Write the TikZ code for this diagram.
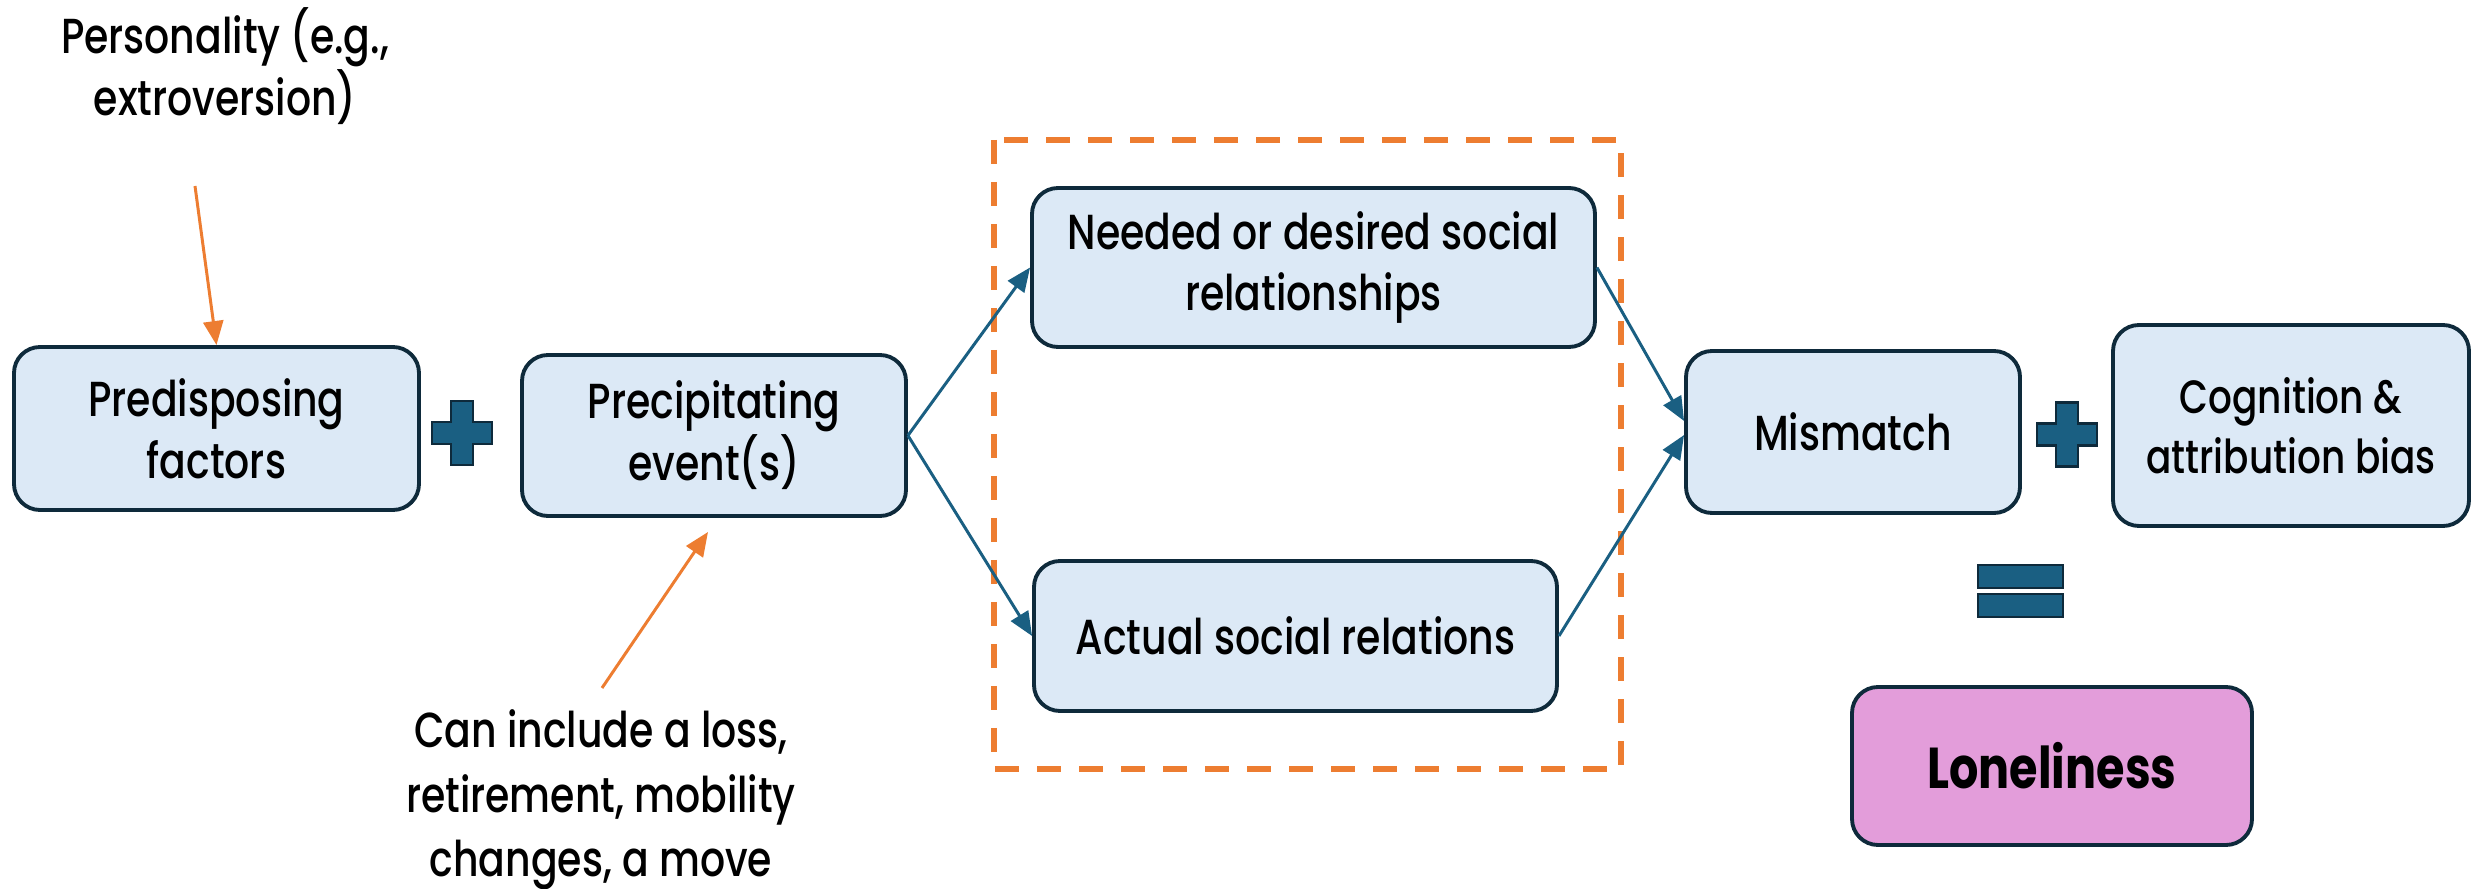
\documentclass[tikz,border=0pt]{standalone}
\usepackage{fontspec}
\setmainfont[FakeStretch=0.80, UprightFont=* Medium, BoldFont=* Bold]{Poppins}
\usetikzlibrary{arrows.meta,positioning}
\definecolor{boxfill}{HTML}{DCE9F6}
\definecolor{boxline}{HTML}{0E2A3B}
\definecolor{linkblue}{HTML}{1A5F82}
\definecolor{noteorange}{HTML}{ED7D31}
\definecolor{lonepink}{HTML}{E39DDA}
\tikzset{stage/.style = {rectangle, rounded corners=2.6mm, draw=boxline, fill=boxfill, line width=1.1pt, align=center, inner sep=0pt, font=\fontsize{14}{17.6}\selectfont}}
\tikzset{link/.style={draw=linkblue, line width=0.85pt, -{Triangle[length=2.4mm,width=2mm]}}}
\tikzset{note/.style={draw=noteorange, line width=0.85pt, -{Triangle[length=2.4mm,width=2mm]}}}
\tikzset{opsign/.style={fill=linkblue, draw=boxline, line width=0.8pt}}
\tikzset{plussign/.pic={\draw[opsign] (-11,-32) -- (11,-32) -- (11,-11) -- (30,-11) -- (30,11) -- (11,11) -- (11,32) -- (-11,32) -- (-11,11) -- (-30,11) -- (-30,-11) -- (-11,-11) -- cycle;}}

\begin{document}
\begin{tikzpicture}[x=0.1mm,y=-0.1mm]
\useasboundingbox (0,0) rectangle (2471,889);

% boxes
\node[stage, minimum width=40.5mm, minimum height=16.3mm] (pre) at (216.5,428.5) {Predisposing\\factors};
\node[stage, minimum width=38.4mm, minimum height=16.1mm] (prec) at (714,435.5) {Precipitating\\event(s)};
\node[stage, minimum width=56.3mm, minimum height=15.9mm] (need) at (1313.5,267.5) {Needed or desired social\\relationships};
\node[stage, minimum width=52.3mm, minimum height=15mm] (act) at (1295.5,636) {Actual social relations};
\node[stage, minimum width=33.4mm, minimum height=16.2mm] (mis) at (1853,432) {Mismatch};
\node[stage, minimum width=35.6mm, minimum height=20.1mm, font=\fontsize{13.3}{17}\selectfont] (cog) at (2291,425.5) {Cognition \&\\attribution bias};
\node[stage, fill=lonepink, minimum width=40mm, minimum height=15.8mm, font=\fontsize{16.4}{20}\selectfont\bfseries] (lone) at (2052,766) {Loneliness};

% group
\draw[noteorange, line width=1.7pt, dash pattern=on 2.4mm off 1.8mm] (994,140) rectangle (1621,769);

% notes
\node[align=center, font=\fontsize{14}{17.6}\selectfont] (pers) at (225,66) {Personality (e.g.,\\extroversion)};
\node[align=center, font=\fontsize{14}{18.3}\selectfont] (cause) at (601,800) {Can include a loss,\\retirement, mobility\\changes, a move};
\coordinate (persfrom) at (195,186);
\coordinate (causefrom) at (602,688);
\coordinate (causeto) at (708,532);

% operators
\pic at (462,433) {plussign};
\pic at (2067,434.5) {plussign};
\draw[opsign] (1978,565) rectangle (2063,588);
\draw[opsign] (1978,594) rectangle (2063,617);

% arrows
\draw[note] (persfrom) -- (pre.north);
\draw[note] (causefrom) -- (causeto);
\draw[link] (prec.east) -- (need.west);
\draw[link] (prec.east) -- (act.west);
\draw[link] (need.east) -- ([yshift=1.1mm]mis.west);
\draw[link] (act.east) -- ([yshift=-0.3mm]mis.west);
\end{tikzpicture}
\end{document}
